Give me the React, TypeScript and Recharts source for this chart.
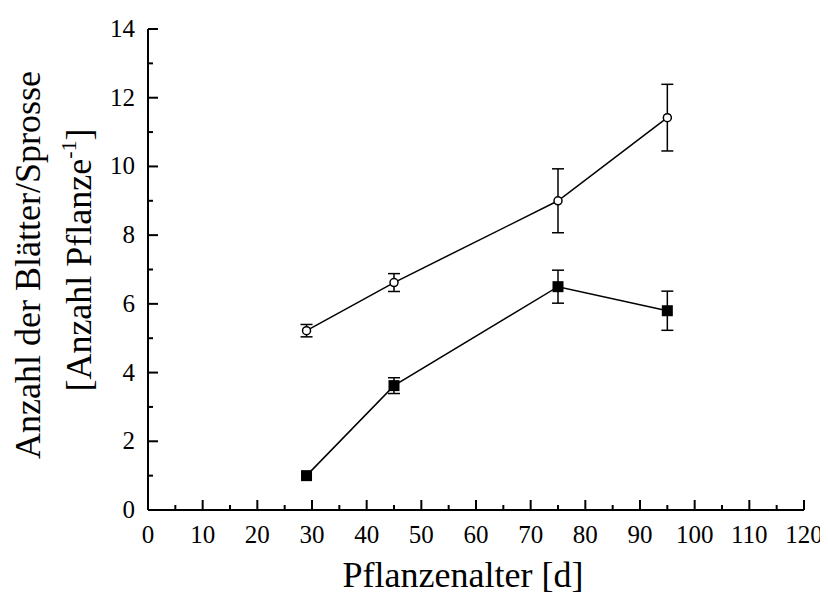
import { LineChart, Line, XAxis, YAxis, ErrorBar } from 'recharts';

const ages = [29, 45, 75, 95];
const openMean = [5.22, 6.62, 9.0, 11.42];
const openErr = [0.18, 0.26, 0.93, 0.97];
const filledMean = [1.0, 3.62, 6.5, 5.8];
const filledErr = [0, 0.23, 0.48, 0.57];

const xTicks = [0, 5, 10, 15, 20, 25, 30, 35, 40, 45, 50, 55, 60, 65, 70, 75, 80, 85, 90, 95, 100, 105, 110, 115, 120];
const yTicks = [0, 1, 2, 3, 4, 5, 6, 7, 8, 9, 10, 11, 12, 13, 14];

const data = ages.map((age, i) => ({
    age,
    open: openMean[i],
    openErr: openErr[i],
    filled: filledMean[i],
    filledErr: filledErr[i],
}));

const FONT = '"Liberation Serif", "Times New Roman", serif';

const XTick = (props: any) => {
    const { x, y, payload } = props;
    const major = payload.value % 10 === 0;
    return (
        <g>
            <line x1={x} x2={x} y1={y} y2={y - (major ? 10 : 5)} stroke="#000" strokeWidth={2} />
            {major && (
                <text x={x} y={y + 33} textAnchor="middle" fontFamily={FONT} fontSize={25} fill="#000">
                    {payload.value}
                </text>
            )}
        </g>
    );
};

const YTick = (props: any) => {
    const { x, y, payload } = props;
    const major = payload.value % 2 === 0;
    return (
        <g>
            <line x1={x} x2={x + (major ? 10 : 5)} y1={y} y2={y} stroke="#000" strokeWidth={2} />
            {major && (
                <text x={x - 13} y={y + 8} textAnchor="end" fontFamily={FONT} fontSize={25} fill="#000">
                    {payload.value}
                </text>
            )}
        </g>
    );
};

const OpenDot = (props: any) => {
    const { cx, cy } = props;
    return <circle cx={cx} cy={cy} r={4} fill="#fff" stroke="#000" strokeWidth={1.5} />;
};

const SquareDot = (props: any) => {
    const { cx, cy } = props;
    return <rect x={cx - 5.5} y={cy - 5.5} width={11} height={11} fill="#000" />;
};

const YLabel = () => (
    <g fontFamily={FONT} fontSize={36} fill="#000">
        <text x={32} y={257} textAnchor="middle" transform="rotate(-90, 32, 257)">
            Anzahl der Blätter/Sprosse
        </text>
        <text x={83} y={252} textAnchor="middle" transform="rotate(-90, 83, 252)">
            [Anzahl Pflanze
            <tspan dy={-15} fontSize={22}>-1</tspan>
            <tspan dy={15}>]</tspan>
        </text>
    </g>
);

const XLabel = () => (
    <text x={455} y={579} textAnchor="middle" fontFamily={FONT} fontSize={36} fill="#000">
        Pflanzenalter [d]
    </text>
);

export default function App() {
    return (
        <LineChart width={820} height={588} data={data} margin={{ top: 21, right: 24, bottom: 0, left: 0 }}>
            <XAxis
                dataKey="age"
                type="number"
                domain={[0, 120]}
                ticks={xTicks}
                interval={0}
                tickSize={0}
                tickMargin={0}
                tick={<XTick />}
                height={86}
                axisLine={{ stroke: '#000', strokeWidth: 2 }}
                tickLine={false}
                label={<XLabel />}
            />
            <XAxis
                xAxisId="top"
                orientation="top"
                dataKey="age"
                type="number"
                domain={[0, 120]}
                height={0}
                tick={false}
                tickLine={false}
                axisLine={{ stroke: '#000', strokeWidth: 2 }}
            />
            <YAxis
                type="number"
                domain={[0, 14]}
                ticks={yTicks}
                interval={0}
                tickSize={0}
                tickMargin={0}
                tick={<YTick />}
                width={140}
                axisLine={{ stroke: '#000', strokeWidth: 2 }}
                tickLine={false}
                label={<YLabel />}
            />
            <YAxis
                yAxisId="right"
                orientation="right"
                type="number"
                domain={[0, 14]}
                width={0}
                tick={false}
                tickLine={false}
                axisLine={{ stroke: '#000', strokeWidth: 2 }}
            />
            <Line
                dataKey="open"
                stroke="#000"
                strokeWidth={1.5}
                dot={<OpenDot />}
                activeDot={false}
                isAnimationActive={false}
            >
                <ErrorBar dataKey="openErr" width={6} stroke="#000" strokeWidth={1.5} />
            </Line>
            <Line
                dataKey="filled"
                stroke="#000"
                strokeWidth={1.5}
                dot={<SquareDot />}
                activeDot={false}
                isAnimationActive={false}
            >
                <ErrorBar dataKey="filledErr" width={6} stroke="#000" strokeWidth={1.5} />
            </Line>
        </LineChart>
    );
}
